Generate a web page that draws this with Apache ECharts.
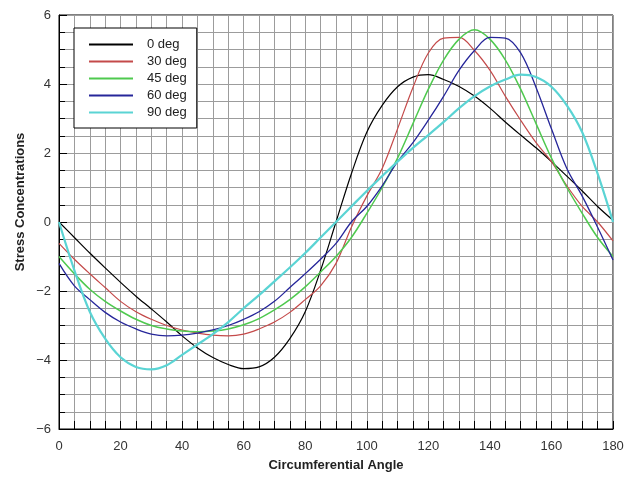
<!DOCTYPE html>
<html><head><meta charset="utf-8">
<script src="https://cdn.jsdelivr.net/npm/echarts@6/dist/echarts.min.js"></script>
<style>html,body{margin:0;padding:0;background:#fff}#c{width:638px;height:479px}</style>
</head><body><div id="c"></div>
<script>
const angles = [0,5,10,15,20,25,30,35,40,45,50,55,60,65,70,75,80,85,90,95,100,105,110,115,120,125,130,135,140,145,150,155,160,165,170,175,180];
const deg0  = [0,-0.45,-0.9,-1.33,-1.75,-2.15,-2.52,-2.9,-3.3,-3.65,-3.93,-4.13,-4.25,-4.2,-3.92,-3.38,-2.6,-1.4,0,1.4,2.6,3.38,3.92,4.2,4.27,4.13,3.93,3.65,3.3,2.9,2.52,2.15,1.75,1.33,0.9,0.45,0.05];
const deg30 = [-0.62,-1.08,-1.5,-1.9,-2.3,-2.6,-2.82,-3.0,-3.13,-3.22,-3.28,-3.3,-3.25,-3.1,-2.9,-2.62,-2.25,-1.85,-1.2,-0.15,0.75,1.55,2.7,3.9,4.9,5.33,5.35,4.97,4.4,3.65,2.95,2.3,1.75,1.05,0.45,0.0,-0.55];
const deg45 = [-1.0,-1.5,-1.95,-2.3,-2.58,-2.82,-3.0,-3.1,-3.16,-3.18,-3.16,-3.1,-2.98,-2.8,-2.55,-2.25,-1.88,-1.45,-1.0,-0.45,0.25,1.0,1.85,2.85,3.85,4.7,5.3,5.57,5.3,4.7,3.85,2.85,1.85,1.0,0.25,-0.45,-1.0];
const deg60 = [-1.2,-1.85,-2.25,-2.62,-2.9,-3.1,-3.25,-3.3,-3.28,-3.22,-3.13,-3.0,-2.82,-2.6,-2.3,-1.9,-1.5,-1.08,-0.62,0.0,0.45,1.05,1.75,2.3,2.95,3.65,4.4,4.97,5.35,5.33,4.9,3.9,2.7,1.55,0.75,-0.15,-1.1];
const deg90 = [0,-1.4,-2.6,-3.38,-3.92,-4.2,-4.27,-4.15,-3.85,-3.55,-3.25,-2.9,-2.5,-2.12,-1.72,-1.32,-0.9,-0.45,0,0.45,0.9,1.33,1.75,2.15,2.52,2.9,3.3,3.65,3.93,4.13,4.27,4.2,3.92,3.38,2.6,1.4,0];
const seriesNames = ['0 deg','30 deg','45 deg','60 deg','90 deg'];
const xTickLabels = ['0','20','40','60','80','100','120','140','160','180'];
const yTickLabels = ['−6','−4','−2','0','2','4','6'];

const FONT = 'Liberation Sans';
const seriesData = [deg0, deg30, deg45, deg60, deg90];
const styles = [
  {color:'#000000', width:1.2},
  {color:'#c44a4a', width:1.2},
  {color:'#4fc94f', width:1.5},
  {color:'#26269a', width:1.3},
  {color:'#5ad4d4', width:2.2}
];
const chart = echarts.init(document.getElementById('c'), null, {renderer:'canvas'});
const gridColor = '#9c9c9c';
chart.setOption({
  animation:false,
  backgroundColor:'#fff',
  grid:{left:59, right:25, top:15, bottom:50, show:true, borderColor:'#000', borderWidth:1, backgroundColor:'transparent'},
  legend:{
    orient:'vertical', left:74, top:28, padding:[10,10,9,15],
    backgroundColor:'#fff', borderColor:'#000', borderWidth:1,
    itemWidth:44, itemHeight:14, itemGap:4,
    textStyle:{fontFamily:FONT, fontSize:13, color:'#222', padding:[0,0,0,9], width:52},
    data:seriesNames.map(n=>({name:n, icon:'path://M0,0L44,0L44,2L0,2Z'}))
  },
  xAxis:{
    type:'value', min:0, max:180, interval:20,
    name:'Circumferential Angle', nameLocation:'middle', nameGap:30,
    nameTextStyle:{fontFamily:FONT, fontWeight:'bold', fontSize:13, color:'#222'},
    axisLine:{show:true, onZero:false, lineStyle:{color:'#000', width:1}},
    axisTick:{show:true, inside:true, length:8, lineStyle:{color:'#000'}},
    minorTick:{show:true, splitNumber:4, length:8, lineStyle:{color:'#000'}},
    splitLine:{show:true, lineStyle:{color:gridColor, width:1}},
    minorSplitLine:{show:true, lineStyle:{color:gridColor, width:1}},
    axisLabel:{margin:11, fontFamily:FONT, fontSize:13, color:'#333',
      formatter:v=>xTickLabels[Math.round(v/20)]}
  },
  yAxis:{
    type:'value', min:-6, max:6, interval:2,
    axisLine:{show:true, onZero:false, lineStyle:{color:'#000', width:1}},
    axisTick:{show:true, inside:true, length:8, lineStyle:{color:'#000'}},
    minorTick:{show:true, splitNumber:4, length:6, lineStyle:{color:'#000'}},
    splitLine:{show:true, lineStyle:{color:gridColor, width:1}},
    minorSplitLine:{show:true, lineStyle:{color:gridColor, width:1}},
    axisLabel:{margin:8, fontFamily:FONT, fontSize:13, color:'#333',
      formatter:v=>yTickLabels[Math.round((v+6)/2)]}
  },
  graphic:[{
    type:'text', x:20, y:202, rotation:Math.PI/2,
    style:{text:'Stress Concentrations', font:'bold 13px "Liberation Sans"', fill:'#222', align:'center', verticalAlign:'middle'}
  }],
  series:seriesNames.map((n,i)=>({
    name:n, type:'line', smooth:0.35, symbol:'none', showSymbol:false,
    data:angles.map((a,j)=>[a, seriesData[i][j]]),
    lineStyle:styles[i], itemStyle:{color:styles[i].color}, z:2+i
  }))
});
</script></body></html>
